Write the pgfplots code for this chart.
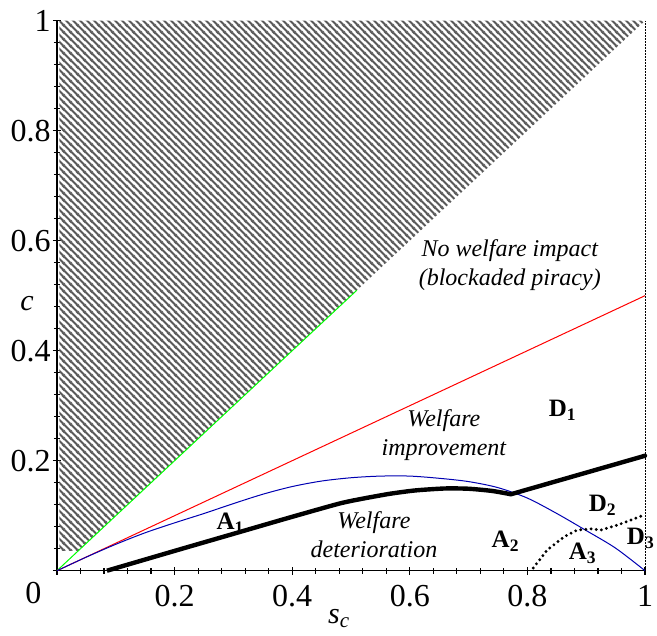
\documentclass[border=0pt]{standalone}
\usepackage{fontspec}
\setmainfont{Liberation Serif}
\usepackage{pgfplots}
\pgfplotsset{compat=1.18}
\usetikzlibrary{patterns.meta,calc}

% dense "\" stripes, like the Maple hatching
\tikzdeclarepattern{
  name=maplehatch, type=uncolored,
  bounding box={(0pt,0pt) and (3.6pt,3.6pt)},
  tile size={(3.6pt,3.6pt)},
  line width=1.2pt,
  code={
    \draw (0pt,3.6pt) -- (3.6pt,0pt);
    \draw (-0.7pt,0.7pt) -- (0.7pt,-0.7pt);
    \draw (2.9pt,4.3pt) -- (4.3pt,2.9pt);
  }
}

\newcommand{\tickfont}{\fontsize{16}{19}\selectfont}
\newcommand{\regfont}{\fontsize{12.5}{15}\selectfont\bfseries}
\newcommand{\txtfont}{\fontsize{12}{14.5}\selectfont\itshape}

\begin{document}
\begin{tikzpicture}

\begin{axis}[
  name=ax,
  scale only axis, width=294pt, height=275pt,
  xmin=0, xmax=1, ymin=0, ymax=1,
  axis lines=left, axis line style={-, line width=0.8pt},
  clip=false,
  xtick={0,0.2,0.4,0.6,0.8,1}, xticklabels={,0.2,0.4,0.6,0.8,1},
  ytick={0,0.2,0.4,0.6,0.8,1}, yticklabels={,0.2,0.4,0.6,0.8,1},
  minor tick num=4,
  tick align=center, major tick length=4pt, minor tick length=3pt,
  tick style={black, line width=0.6pt},
  ticklabel style={font=\tickfont, inner sep=1pt},
  xticklabel style={yshift=-4pt},
]

% blockaded piracy region, c > s_c
\addplot[draw=none, pattern=maplehatch, pattern color=black!65]
  coordinates {(0.004,0.036) (0.036,0.036) (1,1) (0.004,1)} -- cycle;

% green boundary c = s_c
\addplot[green, line width=0.5pt] coordinates {(0,0) (0.51,0.51)};
% red line c = s_c/2
\addplot[red, line width=0.5pt] coordinates {(0,0) (1,0.5)};
% blue curve
\addplot[blue!70!black, line width=0.5pt, smooth] coordinates {
  (0,0) (0.05,0.0248) (0.1,0.048) (0.15,0.069) (0.2,0.087) (0.25,0.104)
  (0.3,0.122) (0.35,0.139) (0.4,0.153) (0.45,0.163) (0.5,0.169)
  (0.55,0.172) (0.6,0.172) (0.65,0.168) (0.7,0.162) (0.75,0.151)
  (0.8,0.132) (0.85,0.104) (0.9,0.073) (0.95,0.041) (1,0)};
% thick black boundary
\addplot[black, line width=2.2pt, smooth, tension=0.4, line join=round] coordinates {
  (0.085,0) (0.2,0.036) (0.3,0.067) (0.4,0.098) (0.48,0.122) (0.52,0.131)
  (0.567,0.140) (0.61,0.146) (0.66,0.1495) (0.7,0.149) (0.74,0.145)
  (0.772,0.139)};
\addplot[black, line width=2.2pt, line cap=round] coordinates {
  (0.772,0.139) (1,0.209)};
% dotted boundary
\addplot[black, line width=1.6pt, line cap=round, dash pattern=on 0pt off 2.6pt]
  coordinates {
  (0.81,0.005) (0.834,0.038) (0.863,0.062) (0.885,0.074) (0.908,0.076)
  (0.925,0.074) (0.953,0.083) (0.976,0.092) (1,0.102)};
% s_c = 1
\addplot[black, line width=0.5pt, dash pattern=on 0.6pt off 0.9pt]
  coordinates {(1,0) (1,1)};

% region labels
\node[font=\txtfont, align=center, inner sep=0pt] at (axis cs:0.77,0.555)
  {No welfare impact\\(blockaded piracy)};
\node[font=\txtfont, align=center, inner sep=0pt] at (axis cs:0.658,0.246)
  {Welfare\\improvement};
\node[font=\txtfont, align=center, inner sep=0pt] at (axis cs:0.539,0.065)
  {Welfare\\deterioration};
\node[font=\regfont, inner sep=0pt] at (axis cs:0.86,0.292) {D\textsubscript{1}};
\node[font=\regfont, inner sep=0pt] at (axis cs:0.928,0.119) {D\textsubscript{2}};
\node[font=\regfont, inner sep=0pt] at (axis cs:0.993,0.059) {D\textsubscript{3}};
\node[font=\regfont, inner sep=0pt] at (axis cs:0.295,0.086) {A\textsubscript{1}};
\node[font=\regfont, inner sep=0pt] at (axis cs:0.763,0.053) {A\textsubscript{2}};
\node[font=\regfont, inner sep=0pt] at (axis cs:0.894,0.032) {A\textsubscript{3}};

% axis labels and the shared zero
\node[font=\tickfont, inner sep=0pt, xshift=-11.8pt, yshift=-11.3pt]
  at (axis cs:0,0) {0};
\node[font=\fontsize{15}{18}\selectfont\itshape, inner sep=0pt, xshift=-15pt]
  at (axis cs:0,0.485) {c};
\node[font=\fontsize{15}{18}\selectfont\itshape, inner sep=0pt, yshift=-24pt]
  at (axis cs:0.48,0) {s\textsubscript{c}};
\end{axis}

\pgfresetboundingbox
\path[use as bounding box] ($(ax.south west)+(-28.5pt,-32.5pt)$)
  rectangle ($(ax.north east)+(6pt,10.35pt)$);
\end{tikzpicture}
\end{document}
